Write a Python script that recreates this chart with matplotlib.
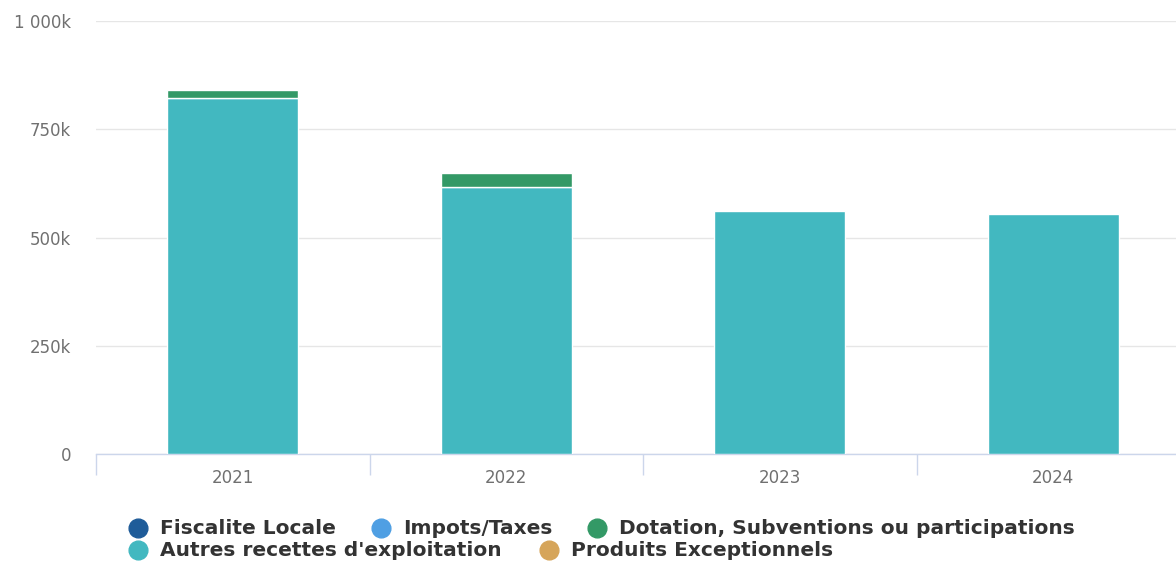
import matplotlib
matplotlib.use("Agg")
import matplotlib.pyplot as plt
from matplotlib.lines import Line2D
import numpy as np

plt.rcParams["font.family"] = ["DejaVu Sans"]

years = ["2021", "2022", "2023", "2024"]
fiscalite = [0, 0, 0, 0]
impots = [0, 0, 0, 0]
dotation = [19000, 33000, 0, 0]
autres = [822000, 617000, 561000, 554000]
produits = [0, 0, 0, 0]

series_names = ["Fiscalite Locale", "Impots/Taxes", "Dotation, Subventions ou participations",
                "Autres recettes d'exploitation", "Produits Exceptionnels"]
colors = ["#1f5c99", "#4f9fe3", "#339966", "#42b8c0", "#d6a55a"]

W, H = 1176, 561
fig = plt.figure(figsize=(W / 100, H / 100), dpi=100)
left, right, top, bottom = 96, 1190, 21, 454
ax = fig.add_axes([left / W, 1 - bottom / H, (right - left) / W, (bottom - top) / H])

x = np.arange(len(years))
bw = 0.48
bottoms = np.zeros(len(years))
stack = [("Autres recettes d'exploitation", autres, colors[3]),
         ("Dotation, Subventions ou participations", dotation, colors[2]),
         ("Fiscalite Locale", fiscalite, colors[0]),
         ("Impots/Taxes", impots, colors[1]),
         ("Produits Exceptionnels", produits, colors[4])]
for name, vals, c in stack:
    vals = np.array(vals, dtype=float)
    mask = vals > 0
    ax.bar(x[mask], vals[mask], bw, bottom=bottoms[mask], color=c, edgecolor="white",
           linewidth=1, zorder=3)
    bottoms += vals

ax.set_xlim(-0.5, len(years) - 0.5)
ax.set_ylim(0, 1000000)
ax.set_yticks([0, 250000, 500000, 750000, 1000000])
ax.set_yticklabels(["0", "250k", "500k", "750k", "1 000k"])
ax.yaxis.grid(True, color="#e6e6e6", linewidth=1, zorder=0)
ax.set_axisbelow(True)
for s in ["top", "right", "left"]:
    ax.spines[s].set_visible(False)
ax.spines["bottom"].set_color("#ccd6eb")
ax.spines["bottom"].set_linewidth(1)
ax.tick_params(axis="y", length=0, pad=18, labelsize=12, labelcolor="#707070")
ax.set_xticks(x)
ax.set_xticklabels(years)
ax.tick_params(axis="x", length=0, pad=11, labelsize=12, labelcolor="#707070")
ax.set_xticks(np.arange(-0.5, len(years), 1), minor=True)
ax.tick_params(axis="x", which="minor", length=15, color="#ccd6eb", width=1)

# Legend (manual, Highcharts style)
legend_items = [
    (0, 138, 528), (1, 381, 528), (2, 597, 528),
    (3, 138, 550), (4, 549, 550),
]
for idx, px, py in legend_items:
    fig.add_artist(Line2D([px / W], [1 - py / H], marker="o", markersize=13.5,
                          color=colors[idx], linestyle="none",
                          transform=fig.transFigure))
    fig.text((px + 22) / W, 1 - (py + 1) / H, series_names[idx], fontsize=14.5,
             fontweight="bold", color="#333333", va="center", ha="left")

fig.savefig("out.png", dpi=100)
